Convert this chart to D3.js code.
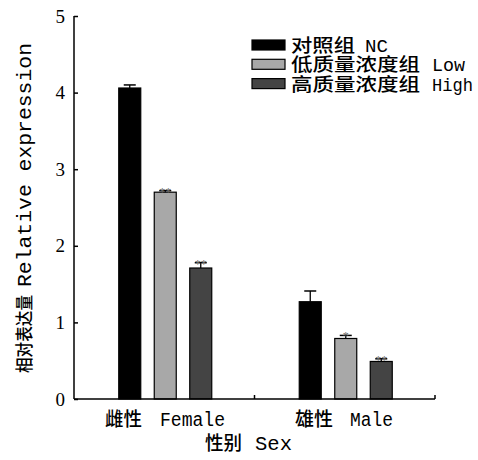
<!DOCTYPE html>
<html><head><meta charset="utf-8">
<script src="https://cdn.jsdelivr.net/npm/d3@7"></script>
<style>body{margin:0;background:#fff}svg{display:block}</style>
</head><body>
<svg id="c" width="478" height="460"></svg>
<script>
const groups = ["Female", "Male"];
const groupCn = ["雌性", "雄性"];
const groupEn = ["Female", "Male"];
const seriesNames = ["NC", "Low", "High"];
const seriesCn = ["对照组", "低质量浓度组", "高质量浓度组"];
const seriesColors = ["#000000", "#a8a8a8", "#444444"];
const values = [[4.06, 2.70, 1.71], [1.27, 0.79, 0.49]];
const errors = [[0.04, 0.02, 0.07], [0.14, 0.04, 0.035]];
const marks = [["", "**", "**"], ["", "*", "**"]];
const yTicks = [0, 1, 2, 3, 4, 5];

(function () {
const svg = d3.select("#c");
const L = 74, R = 435, T = 16, B = 399;
const y = d3.scaleLinear().domain([0, 5]).range([B, T]);
const x = d3.scaleBand().domain(groups).range([L, R]).padding(0);
const bw = 22;

const serif = "'Liberation Serif','Times New Roman',serif";
const mono = "'Liberation Mono','DejaVu Sans Mono',monospace";
const cjk = "'Noto Sans CJK SC',sans-serif";

// two-part label: CJK then Latin, each stretched to a measured width
function label(parent, x0, yb, cn, cnW, en, enX, enW, cnSize, enSize) {
  const t = parent.append("text").attr("y", yb).attr("fill", "#000");
  t.append("tspan").attr("x", x0).attr("font-family", cjk).attr("font-size", cnSize).attr("font-weight", 500)
    .attr("textLength", cnW).attr("lengthAdjust", "spacingAndGlyphs").text(cn);
  t.append("tspan").attr("x", enX).attr("font-family", mono).attr("font-size", enSize)
    .attr("textLength", enW).attr("lengthAdjust", "spacingAndGlyphs").text(en);
  return t;
}

// bars
groups.forEach((g, gi) => {
  const cx = x(g) + x.bandwidth() / 2;
  seriesNames.forEach((s, si) => {
    const bx = cx + (si - 1) * 35.5 - bw / 2 + 1;
    const v = values[gi][si], e = errors[gi][si];
    svg.append("rect").attr("x", bx).attr("y", y(v)).attr("width", bw).attr("height", y(0) - y(v))
      .attr("fill", seriesColors[si]).attr("stroke", "#000").attr("stroke-width", 1.2);
    const mx = bx + bw / 2;
    svg.append("line").attr("x1", mx).attr("x2", mx).attr("y1", y(v)).attr("y2", y(v + e)).attr("stroke", "#000").attr("stroke-width", 1.3);
    svg.append("line").attr("x1", mx - 6).attr("x2", mx + 6).attr("y1", y(v + e)).attr("y2", y(v + e)).attr("stroke", "#000").attr("stroke-width", 1.5);
    if (marks[gi][si]) {
      svg.append("text").attr("x", mx).attr("y", y(v + e) + 5).attr("text-anchor", "middle")
        .attr("font-family", serif).attr("font-size", 12).attr("fill", "#666").text(marks[gi][si]);
    }
  });
});

// y axis
const yAxis = d3.axisLeft(y).tickValues(yTicks).tickSize(-4).tickPadding(9).tickFormat(d3.format("d"));
const ya = svg.append("g").attr("transform", `translate(${L},0)`).call(yAxis);
ya.select(".domain").attr("stroke", "#000").attr("stroke-width", 1.5).attr("d", `M0,${T}V${B}`);
ya.selectAll(".tick line").attr("stroke", "#000").attr("stroke-width", 1.5);
ya.selectAll(".tick text").attr("font-family", serif).attr("font-size", 19).attr("fill", "#000");

// x axis
const xa = svg.append("g").attr("transform", `translate(0,${B})`);
xa.append("line").attr("x1", L).attr("x2", R).attr("stroke", "#000").attr("stroke-width", 1.5);
[x("Male"), R].forEach(t => xa.append("line").attr("x1", t).attr("x2", t).attr("y1", 0).attr("y2", -4).attr("stroke", "#000").attr("stroke-width", 1.5));

// category labels
const catPos = [[105, 37, 160, 65], [295, 38, 350, 43]];
groups.forEach((g, gi) => {
  const p = catPos[gi];
  label(svg, p[0], 426, groupCn[gi], p[1], groupEn[gi], p[2], p[3], 19, 20);
});
// x title
label(svg, 205, 450, "性别", 37, "Sex", 255, 37, 19, 20);
// y title (rotated)
const yt = svg.append("g").attr("transform", "translate(31,373) rotate(-90)");
label(yt, 0, 0, "相对表达量", 78, "Relative expression", 86, 244, 18, 20);

// legend
const legEn = [[365, 23], [432, 33], [432, 41]];
const legCnW = [64, 129, 129];
seriesNames.forEach((s, si) => {
  const ly = 45 + si * 19.3;
  svg.append("rect").attr("x", 252).attr("y", ly - 5).attr("width", 33).attr("height", 10)
    .attr("fill", seriesColors[si]).attr("stroke", "#000").attr("stroke-width", 1.2);
  label(svg, 291, ly + 7, seriesCn[si], legCnW[si], s, legEn[si][0], legEn[si][1], 18, 19);
});
})();
</script>
</body></html>
